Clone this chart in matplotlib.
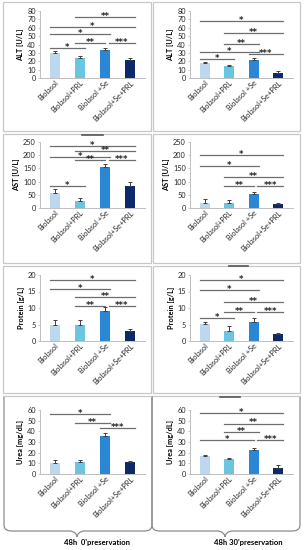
import numpy as np
import matplotlib
matplotlib.use("Agg")
import matplotlib.pyplot as plt
from matplotlib.path import Path
from matplotlib.patches import PathPatch, Rectangle

plt.rcParams["font.family"] = ["Lato", "DejaVu Sans"]

# ---- data ----
groups = ["Biolasol", "Biolasol+PRL", "Biolasol +Se", "Biolasol+Se+PRL"]
bar_colors = ["#bdd7ee", "#6cc5e0", "#2b86d4", "#0c2a68"]

alt_0 = [30, 24, 33, 21]
alt_0_err = [2, 2, 2.5, 2.5]
alt_30 = [17.5, 14, 22, 6.5]
alt_30_err = [1.5, 1, 1.5, 2]

ast_0 = [58, 28, 155, 82]
ast_0_err = [13, 10, 13, 15]
ast_30 = [20, 19, 53, 15]
ast_30_err = [15, 12, 8, 4]

prot_0 = [4.8, 4.9, 9.0, 3.0]
prot_0_err = [1.5, 1.6, 1.3, 0.5]
prot_30 = [5.2, 2.9, 5.9, 2.0]
prot_30_err = [0.7, 1.5, 1.1, 0.5]

urea_0 = [10.5, 11.5, 36, 11]
urea_0_err = [2.5, 2, 2, 1.5]
urea_30 = [17, 14, 22.5, 6]
urea_30_err = [1, 1, 2, 2]

# significance brackets: (from group, to group, height, label)
alt_0_sig = [(1, 3, 73, "**"), (0, 3, 61, "*"), (0, 2, 52, "*"),
             (1, 2, 42, "**"), (2, 3, 42, "***"), (0, 1, 36, "*")]
alt_30_sig = [(0, 3, 68, "*"), (1, 3, 53.5, "**"), (1, 2, 41, "**"),
              (0, 2, 31, "*"), (2, 3, 28.5, "***"), (0, 1, 23, "*")]
ast_0_sig = [(0, 3, 236, "*"), (1, 3, 217, "**"), (0, 2, 194, "*"),
             (1, 2, 183, "**"), (2, 3, 183, "***"), (0, 1, 85, "*")]
ast_30_sig = [(0, 3, 200, "*"), (0, 2, 159, "*"), (1, 3, 119, "**"),
              (1, 2, 84, "**"), (2, 3, 84, "***")]
prot_0_sig = [(0, 3, 18.5, "*"), (0, 2, 15.7, "*"), (1, 3, 13.2, "**"),
              (1, 2, 10.7, "**"), (2, 3, 10.7, "***")]
prot_30_sig = [(0, 3, 18.5, "*"), (0, 2, 15.4, "*"), (1, 3, 11.8, "**"),
               (1, 2, 8.9, "**"), (2, 3, 8.9, "***"), (0, 1, 7.1, "*")]
urea_0_sig = [(0, 2, 56, "*"), (1, 2, 47.5, "**"), (2, 3, 43, "***")]
urea_30_sig = [(0, 3, 57.5, "*"), (1, 3, 47.3, "**"), (1, 2, 39.5, "**"),
               (0, 2, 31.5, "*"), (2, 3, 31.5, "***")]

ylabels = ["ALT [U/L]", "AST [U/L]", "Protein [g/L]", "Urea [mg/dL]"]
ymaxes = [80, 250, 20, 60]
ysteps = [10, 50, 5, 10]
bottom_labels = ["48h  0'preservation", "48h 30'preservation"]

panels = [
    [(alt_0, alt_0_err, alt_0_sig), (alt_30, alt_30_err, alt_30_sig)],
    [(ast_0, ast_0_err, ast_0_sig), (ast_30, ast_30_err, ast_30_sig)],
    [(prot_0, prot_0_err, prot_0_sig), (prot_30, prot_30_err, prot_30_sig)],
    [(urea_0, urea_0_err, urea_0_sig), (urea_30, urea_30_err, urea_30_sig)],
]

# ---- layout in pixels ----
W, H = 305, 550
col_x = [(40, 145), (190, 293)]
row_y = [(11, 78), (142, 208), (275, 341), (410, 474)]
box_x = [(3, 151), (153, 300)]
box_y = [(2, 131), (134, 263), (266, 393)]

fig = plt.figure(figsize=(W / 100, H / 100), dpi=100)

# overlay for frames, braces and captions
ov = fig.add_axes([0, 0, 1, 1], zorder=0)
ov.set_xlim(0, W)
ov.set_ylim(H, 0)
ov.axis("off")
ov.patch.set_alpha(0)

frame_col = "#c8c8c8"
for (x0, x1) in box_x:
    for (y0, y1) in box_y:
        ov.add_patch(Rectangle((x0, y0), x1 - x0, y1 - y0, fill=False,
                               ec=frame_col, lw=0.9))
    ov.plot([x0, x1], [396, 396], color=frame_col, lw=0.9)

# bottom row: side lines running into curly braces
brace_col = "#8c8c8c"
for (x0, x1) in [(4, 152), (152, 300)]:
    tip = x0 + 73
    yb, yt = 531, 537
    verts = [(x0, 396), (x0, 524),
             (x0, 530), (x0 + 3, yb), (x0 + 9, yb),
             (tip - 8, yb),
             (tip - 2, yb), (tip, yt - 2), (tip, yt),
             (tip, yt - 2), (tip + 2, yb), (tip + 8, yb),
             (x1 - 9, yb),
             (x1 - 3, yb), (x1, 530), (x1, 524),
             (x1, 396)]
    codes = ([Path.MOVETO, Path.LINETO]
             + [Path.CURVE4] * 3 + [Path.LINETO]
             + [Path.CURVE4] * 3 + [Path.CURVE4] * 3
             + [Path.LINETO] + [Path.CURVE4] * 3 + [Path.LINETO])
    ov.add_patch(PathPatch(Path(verts, codes), fill=False, ec=brace_col, lw=0.9))

for lab, x in zip(bottom_labels, [64, 214]):
    ov.text(x, 542, lab, fontsize=5.5, fontweight="bold", ha="left", va="center")

# small dark handles on some frames
for (x0, x1, y) in [(82, 103, 134.5), (229, 248, 266), (220, 240, 397)]:
    ov.plot([x0, x1], [y, y], color="#555555", lw=1.2)

x = np.arange(len(groups))
for r, row in enumerate(panels):
    for c, (vals, errs, sig) in enumerate(row):
        px0, px1 = col_x[c]
        py0, py1 = row_y[r]
        ax = fig.add_axes([px0 / W, 1 - py1 / H, (px1 - px0) / W, (py1 - py0) / H],
                          zorder=2)
        ax.patch.set_alpha(0)
        ax.bar(x, vals, width=0.4, color=bar_colors, zorder=2,
               yerr=[np.zeros(len(errs)), errs], capsize=1.5,
               error_kw=dict(ecolor="#404040", elinewidth=0.7, capthick=0.7))
        ax.set_xlim(-0.6, 3.6)
        ax.set_ylim(0, ymaxes[r])
        ax.set_yticks(np.arange(0, ymaxes[r] + 1, ysteps[r]))
        ax.tick_params(axis="y", labelsize=5.3, length=1.5, width=0.6,
                       colors="#bfbfbf", labelcolor="#262626", pad=1.5)
        ax.tick_params(axis="x", length=0, pad=1)
        ax.set_xticks(x)
        ax.set_xticklabels(groups, rotation=45, ha="right", rotation_mode="anchor",
                           fontsize=5.3, color="#262626")
        for s in ["top", "right"]:
            ax.spines[s].set_visible(False)
        for s in ["left", "bottom"]:
            ax.spines[s].set_color("#bfbfbf")
            ax.spines[s].set_linewidth(0.7)
        ax.set_ylabel(ylabels[r], fontsize=5.3, fontweight="bold", labelpad=2)

        # significance lines
        levels = {}
        for i, j, h, lab in sig:
            levels.setdefault(h, []).append((i, j))
        for i, j, h, lab in sig:
            start, end = i - 0.2, j + 0.2
            for (a, b) in levels[h]:
                if b == i:
                    start = i + 0.15
                if a == j:
                    end = j
            ax.plot([start, end], [h, h], color="#6e6e6e", lw=0.9,
                    clip_on=False, zorder=3)
            ax.annotate(lab, ((start + end) / 2, h), xytext=(0, -1.4),
                        textcoords="offset points", ha="center", va="baseline",
                        fontsize=6, fontweight="bold", family="DejaVu Sans",
                        color="#262626", annotation_clip=False)

fig.savefig("out.png", dpi=100)
